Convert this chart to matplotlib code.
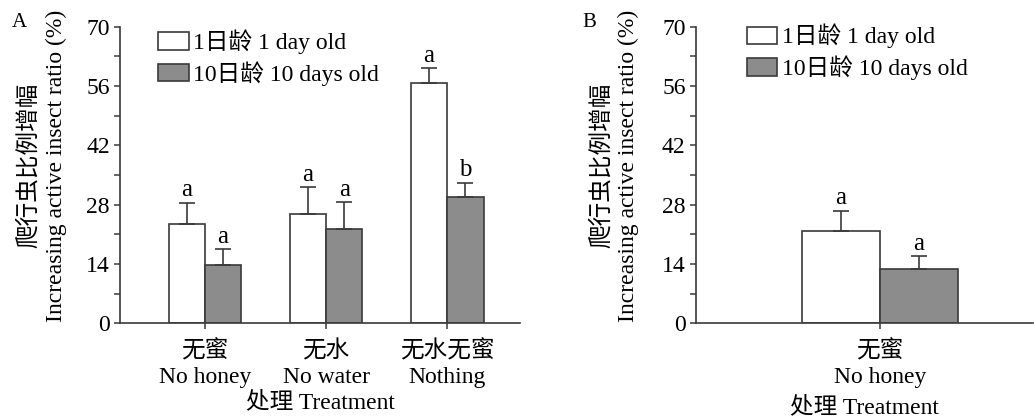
import numpy as np
import matplotlib
matplotlib.use('Agg')
import matplotlib.pyplot as plt
from matplotlib.ticker import MultipleLocator

plt.rcParams['font.family'] = ['Liberation Serif', 'Noto Sans CJK SC']
plt.rcParams['font.size'] = 17

# panel A data
catsA = ['无蜜\nNo honey', '无水\nNo water', '无水无蜜\nNothing']
day1A = [23.4, 25.7, 56.8]
day1A_err = [5.1, 6.5, 3.4]
day10A = [13.8, 22.3, 29.7]
day10A_err = [3.7, 6.3, 3.5]
day1A_lab = ['a', 'a', 'a']
day10A_lab = ['a', 'a', 'b']

# panel B data
catsB = ['无蜜\nNo honey']
day1B = [21.9]
day1B_err = [4.7]
day10B = [12.8]
day10B_err = [3.1]
day1B_lab = ['a']
day10B_lab = ['a']

legend_labels = ['1日龄 1 day old', '10日龄 10 days old']
yticks = [0, 14, 28, 42, 56, 70]

edge = '#3a3a3a'
grey = '#8c8c8c'
w = 0.30


def panel(ax, cats, v1, e1, v2, e2, l1, l2, xlim, leg_anchor, xlabpad, ylab_x):
    x = np.arange(len(cats))
    ax.bar(x - w / 2, v1, w, color='white', edgecolor=edge, linewidth=1.2, label=legend_labels[0])
    ax.bar(x + w / 2, v2, w, color=grey, edgecolor=edge, linewidth=1.2, label=legend_labels[1])
    for xs, vals, errs, labs in [(x - w / 2, v1, e1, l1), (x + w / 2, v2, e2, l2)]:
        ax.errorbar(xs, vals, yerr=[np.zeros(len(vals)), errs], fmt='none',
                    ecolor=edge, elinewidth=1.2, capsize=5.5, capthick=1.2)
        for xi, v, e, t in zip(xs, vals, errs, labs):
            ax.text(xi, v + e + 0.3, t, ha='center', va='bottom', fontsize=18)
    ax.set_xlim(*xlim)
    ax.set_ylim(0, 70)
    ax.set_yticks(yticks)
    ax.yaxis.set_minor_locator(MultipleLocator(7))
    ax.set_xticks(x)
    ax.set_xticklabels(cats, linespacing=1.3)
    ax.spines['top'].set_visible(False)
    ax.spines['right'].set_visible(False)
    for s in ['left', 'bottom']:
        ax.spines[s].set_color(edge)
        ax.spines[s].set_linewidth(1.2)
    ax.tick_params(which='both', direction='out', length=4, width=1.1, color=edge)
    ax.tick_params(axis='x', pad=8)
    # two-line y label, each line placed on its own
    ax.text(ylab_x[0], 0.534, '爬行虫比例增幅', rotation=90, ha='center', va='center',
            transform=ax.transAxes)
    ax.text(ylab_x[1], 0.53, 'Increasing active insect ratio (%)', rotation=90,
            ha='center', va='center', transform=ax.transAxes)
    ax.set_xlabel('处理 Treatment', labelpad=xlabpad)
    ax.legend(loc='upper left', bbox_to_anchor=leg_anchor, frameon=False,
              handlelength=1.3, handleheight=0.75, handletextpad=0.2,
              labelspacing=0.3, borderpad=0, borderaxespad=0, fontsize=17)
    return ax


fig = plt.figure(figsize=(10.34, 4.17), dpi=100)
axA = fig.add_axes([0.1161, 0.2247, 0.3868, 0.7113])
axB = fig.add_axes([0.6731, 0.2247, 0.3259, 0.7113])

panel(axA, catsA, day1A, day1A_err, day10A, day10A_err, day1A_lab, day10A_lab,
      (-0.70, 2.60), (0.095, 0.99), 2.5, (-0.228, -0.16))
panel(axB, catsB, day1B, day1B_err, day10B, day10B_err, day1B_lab, day10B_lab,
      (-0.708, 0.59), (0.15, 1.01), 6, (-0.279, -0.202))

fig.text(0.0116, 0.947, 'A', fontsize=15, va='center')
fig.text(0.5635, 0.947, 'B', fontsize=15, va='center')

fig.savefig('out.png', dpi=100)
